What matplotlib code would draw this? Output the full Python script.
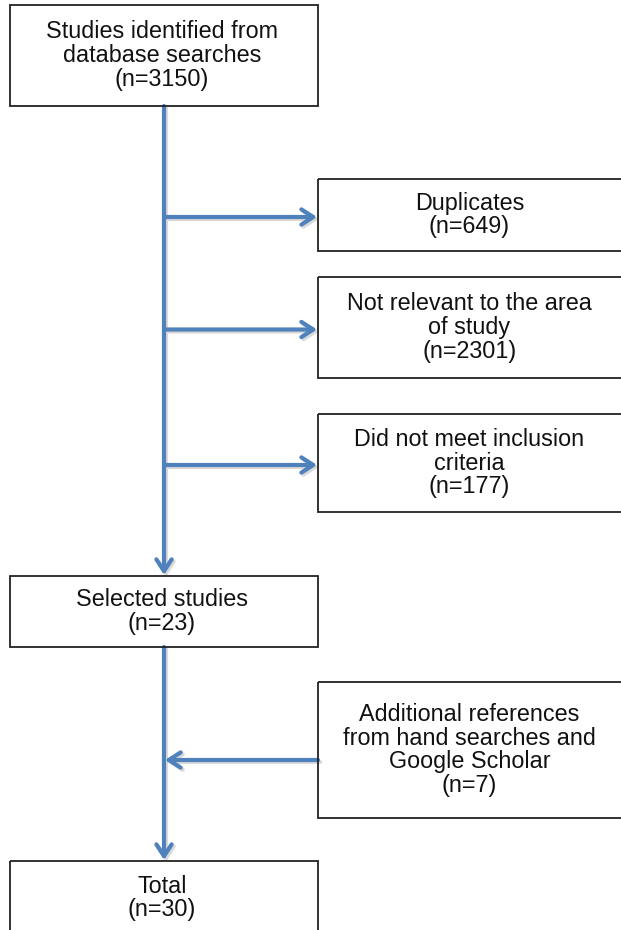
import matplotlib
matplotlib.use("Agg")
from matplotlib import pyplot as plt
from matplotlib.patches import Rectangle

# flow boxes: label, count
main_labels = ["Studies identified from\ndatabase searches", "Selected studies", "Total"]
main_counts = [3150, 23, 30]
side_labels = ["Duplicates", "Not relevant to the area\nof study",
               "Did not meet inclusion\ncriteria",
               "Additional references\nfrom hand searches and\nGoogle Scholar"]
side_counts = [649, 2301, 177, 7]

# layout in pixels (x0, y0, x1, y1)
main_boxes = [(10, 5, 318, 106), (10, 576, 318, 647), (10, 861, 318, 935)]
side_boxes = [(318, 179, 625, 251), (318, 277, 625, 378), (318, 414, 625, 512), (318, 682, 625, 818)]
blue = "#4F81BD"
spine_x = 164

plt.rcParams['font.family'] = ['Liberation Sans', 'DejaVu Sans']
fig = plt.figure(figsize=(6.21, 9.30), dpi=100, facecolor='w')
ax = fig.add_axes([0, 0, 1, 1])
ax.set_xlim(0, 621)
ax.set_ylim(930, 0)
ax.axis('off')

def box(b, label, n, ty=None):
    x0, y0, x1, y1 = b
    ax.add_patch(Rectangle((x0, y0), x1 - x0, y1 - y0, fill=False, ec='#222222', lw=1.3, zorder=3))
    if ty is None:
        ty = (y0 + y1) / 2
    ax.text((x0 + x1) / 2 - 2, ty, label + "\n(n=%d)" % n, ha='center', va='center',
            fontsize=16.8, linespacing=1.05, color='#111111', zorder=4)

def arrow(x0, y0, x1, y1):
    for dx, col, z in [(2, '#d9d9d9', 1), (0, blue, 2)]:
        ax.annotate("", xy=(x1 + dx, y1 + dx), xytext=(x0 + dx, y0 + dx), zorder=z,
                    arrowprops=dict(arrowstyle="->,head_length=0.85,head_width=0.55", lw=3.0,
                                    color=col, shrinkA=0, shrinkB=0))

for i, (b, l, n) in enumerate(zip(main_boxes, main_labels, main_counts)):
    box(b, l, n, ty=898 if i == 2 else None)
for b, l, n in zip(side_boxes, side_labels, side_counts):
    box(b, l, n)

# vertical spine
arrow(spine_x, main_boxes[0][3], spine_x, main_boxes[1][1] - 1)
arrow(spine_x, main_boxes[1][3], spine_x, main_boxes[2][1] - 1)
# exclusions out
for b in side_boxes[:3]:
    y = (b[1] + b[3]) / 2 + 2
    arrow(spine_x, y, b[0] - 1, y)
# additional in
b = side_boxes[3]
y = (b[1] + b[3]) / 2 + 10
arrow(b[0], y, spine_x + 1, y)

fig.savefig("out.png", dpi=100, facecolor='w')
